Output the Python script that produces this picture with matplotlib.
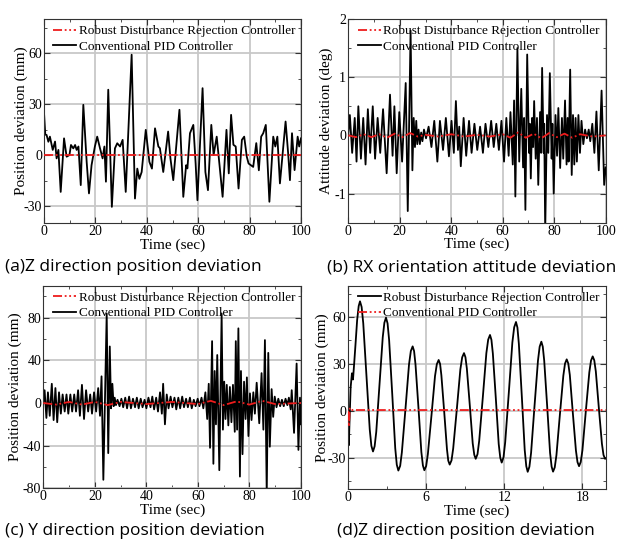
import matplotlib.pyplot as plt
from matplotlib.ticker import MultipleLocator

# Fonte com serifa (tipo Times) para os eixos e legendas
plt.rcParams['font.family'] = ['Liberation Serif', 'DejaVu Serif']
plt.rcParams['font.size'] = 10
plt.rcParams['axes.unicode_minus'] = False

# ---------------- (a) Z direction position deviation ----------------
a_time = [0, 0.5, 1.0, 1.7, 2.3, 3.4, 4.3, 4.9, 5.6, 6.5,
          7.8, 8.8, 9.9, 10.5, 11.4, 12.1, 12.7, 13.4, 14.3, 15.3,
          16.6, 17.5, 18.5, 19.8, 20.7, 21.8, 22.8, 23.5, 24.1, 25.0,
          26.4, 27.6, 28.5, 29.6, 30.6, 31.8, 34.1, 35.4, 36.3, 37.1,
          38.0, 39.6, 41.0, 42.0, 43.2, 44.5, 45.1, 46.4, 48.3, 49.2,
          50.3, 52.7, 54.2, 55.3, 55.8, 56.8, 58.1, 59.0, 59.7, 61.7,
          62.8, 63.8, 65.1, 66.0, 67.2, 68.3, 69.5, 71.0, 71.9, 72.8,
          73.7, 74.6, 75.7, 77.0, 77.9, 78.9, 79.6, 81.4, 82.6, 83.6,
          84.5, 85.3, 86.3, 87.7, 89.2, 90.0, 90.8, 91.8, 94.0, 95.0,
          95.7, 96.5, 97.5, 98.7, 99.3, 100]
a_pid = [25, 12, 11.8, 7.8, 10.8, 3, 7.9, -2, 3, -21.7,
         9.8, -1, 0, 5.9, 3.9, 5.9, 3, 5, -17.7, 29.5,
         -4, -22.6, -6, 5, 10.8, 3.9, -2, 5, -15.7, 38.4,
         -30.5, 3.9, 6.9, 5, 8.9, -21.7, 59, -25.6, -8, -14,
         -10, 14.8, -4, -8, 15.7, 5, 4, -10, 13.8, -2,
         -14.8, 26.6, -24.6, -6, -7.9, 12.8, 17.7, -5, -26.6, 39.3,
         -10, -20.7, 17.7, 0, 10.8, -6, -24.6, 14.8, -10.8, 23.6,
         6, 5, -19.7, 8.9, 10.8, -1, -5, -7, 7, -9,
         10.8, 12.8, 17.7, -27.5, 10.8, 5, 10.8, -16.7, 19.7, 1,
         -14.8, 12.8, -8.9, 10.8, 5, 9.8]
a_rdr_time = [0, 100]
a_rdr = [0, 0]

# ---------------- (b) RX orientation attitude deviation ----------------
b_time = [0, 0.6, 1.5, 2.5, 3.2, 3.9, 4.9, 5.8, 6.7, 7.6,
          8.5, 9.5, 10.4, 11.4, 12.4, 13.5, 14.9, 16.2, 17.2, 17.9,
          18.8, 19.8, 20.9, 22.3, 23.1, 24.2, 24.9, 25.4, 25.9, 26.4,
          26.8, 27.3, 27.8, 28.3, 28.8, 29.4, 30.2, 31.2, 32.3, 33.4,
          34.6, 35.6, 36.8, 37.9, 39.1, 40.1, 41.0, 41.8, 42.6, 43.1,
          43.7, 44.8, 45.8, 46.9, 47.9, 49.0, 50.1, 51.2, 52.3, 53.3,
          54.4, 55.5, 56.5, 57.5, 58.5, 59.5, 60.5, 61.4, 62.3, 63.0,
          63.9, 64.4, 64.9, 65.7, 66.4, 67.2, 67.9, 68.3, 68.8, 69.5,
          70.2, 70.5, 70.9, 71.4, 71.8, 72.2, 72.8, 73.3, 73.8, 74.5,
          74.9, 75.3, 75.9, 76.1, 76.5, 77.2, 77.7, 78.3, 79.0, 79.3,
          79.8, 80.5, 81.1, 81.6, 82.3, 83.0, 83.5, 84.2, 84.8, 85.2,
          85.6, 86.2, 86.8, 87.3, 87.8, 88.3, 88.8, 89.4, 90.0, 90.6,
          91.3, 92.0, 92.7, 93.4, 94.0, 94.8, 95.6, 96.4, 97.3, 98.4,
          99.4, 100]
b_pid = [0, 0.35, -0.3, 0.3, -0.45, 0.5, -0.4, 0.3, -0.5, 0.45,
         -0.3, 0.5, -0.4, 0.3, -0.3, 0.45, -0.65, 0.7, -0.35, 0.5,
         -0.65, 0.4, -0.45, 0.9, -1.3, 1.8, -0.6, 0.3, -0.2, 0.25,
         -0.15, 0.1, -0.15, 0.05, -0.1, 0.1, -0.05, 0.15, -0.2, 0.25,
         -0.45, 0.25, -0.25, 0.3, -0.36, 0.25, -0.3, 0.59, -0.25, 0.15,
         -0.53, 0.3, -0.35, 0.25, -0.3, 0.2, -0.25, 0.15, -0.3, 0.2,
         -0.2, 0.25, -0.2, 0.2, -0.25, 0.25, -0.45, 0.3, -0.35, 0.4,
         -0.5, 0.6, -1.05, 1.5, -0.45, 0.8, -0.55, 0.3, -1.28, 1.39,
         -0.3, 0.2, -0.74, 0.3, -0.2, 0.59, -0.4, 0.3, -0.85, 0.4,
         -0.3, 1.16, -0.3, 0.2, -1.65, 0.35, -0.3, 1.07, -0.4, 0.2,
         -1.0, 0.35, -0.35, 0.47, -0.56, 0.3, -0.4, 0.6, -0.5, 0.3,
         -0.45, 1.13, -0.68, 0.35, -0.5, 0.3, -0.45, 0.35, -0.3, 0.25,
         -0.15, 0.1, -0.05, 0.1, -0.1, 0.2, -0.3, 0.41, -0.6, 0.77,
         -0.85, -0.55]
b_rdr_time = [0, 3, 6, 9, 12, 15, 18, 21, 24, 27,
              30, 35, 40, 45, 50, 55, 60, 63, 66, 69,
              72, 75, 78, 81, 84, 87, 90, 95, 100]
b_rdr = [0, -0.03, 0.02, -0.03, 0.02, -0.04, 0.03, -0.03, 0.04, -0.02,
         0.01, -0.02, 0.02, -0.02, 0.01, -0.02, 0.02, -0.04, 0.05, -0.04,
         0.03, -0.05, 0.04, -0.03, 0.03, -0.04, 0.02, -0.02, 0.0]

# ---------------- (c) Y direction position deviation ----------------
c_time = [0, 0.5, 1.2, 1.8, 2.5, 3.3, 4.0, 4.7, 5.4, 6.1,
          6.8, 7.5, 8.3, 9.0, 9.7, 10.5, 11.2, 12.0, 12.7, 13.5,
          14.2, 15.0, 15.8, 16.6, 17.4, 18.2, 18.9, 19.7, 20.5, 21.3,
          22.0, 22.6, 23.3, 24.6, 25.2, 25.8, 26.3, 26.8, 27.3, 27.7,
          28.2, 28.8, 29.6, 30.3, 31.0, 31.8, 32.5, 33.3, 34.0, 34.8,
          35.6, 36.3, 37.0, 37.8, 38.5, 39.3, 40.0, 40.8, 41.6, 42.3,
          43.0, 43.8, 44.5, 45.3, 46.0, 46.5, 47.2, 47.9, 48.6, 49.4,
          50.1, 50.9, 51.6, 52.4, 53.1, 53.9, 54.6, 55.4, 56.1, 56.9,
          57.6, 58.4, 59.1, 59.9, 60.6, 61.4, 62.1, 62.9, 63.6, 64.2,
          64.7, 65.5, 66.0, 66.5, 67.0, 67.5, 68.3, 69.2, 69.7, 70.2,
          70.7, 71.2, 71.8, 72.4, 73.0, 73.6, 74.3, 74.7, 75.2, 75.7,
          76.3, 76.7, 77.3, 77.9, 78.5, 79.0, 79.6, 80.2, 80.8, 81.5,
          82.1, 82.8, 83.8, 84.7, 85.4, 86.0, 86.7, 87.3, 87.9, 88.6,
          89.2, 89.8, 90.5, 91.2, 91.9, 92.6, 93.3, 94.0, 94.7, 95.3,
          96.0, 96.4, 97.3, 98.3, 99.0, 99.6, 100]
c_pid = [0, 12, -14, 10, -12, 18, -16, 14, -18, 10,
         -10, 8, -8, 8, -10, 8, -8, 8, -8, 12,
         -12, 17, -15, 12, -8, 8, -10, 10, -8, 14,
         -12, 25, -72, 84, -47, 53, -5, 18, -3, 5,
         -2, 3, -3, 4, -4, 5, -5, 6, -5, 4,
         -4, 5, -5, 4, -4, 3, -5, 5, -4, 6,
         -6, 5, -8, 10, -10, 18, -20, 8, -5, 6,
         -4, 5, -6, 5, -5, 6, -4, 4, -4, 5,
         -5, 3, -3, 4, -3, 5, -5, 10, -15, 18,
         -42, 58, -57, 30, -20, 45, -63, 84, -25, 20,
         -15, 17, -21, 15, -18, 17, -27, 58, -25, 70,
         -69, 30, -48, 20, -15, 24, -31, 9, -16, 10,
         -10, 19, -19, 28, -25, 59, -86, 47, -41, 13,
         -13, 6, -4, 4, -3, 3, -3, 4, -2, 5,
         -6, 12, -28, 37, -44, 5, -20]
c_rdr_time = [0, 5, 10, 15, 20, 25, 30, 40, 50, 60, 65, 70, 75, 80, 85, 90, 100]
c_rdr = [0, -1.5, 1, -1.5, 1, -2, 1, -1, 1, -1, 2, -2, 1.5, -1.5, 2, -1, 0]

# ---------------- (d) Z direction position deviation (0-20 s) ----------------
d_time = [0, 0.04, 0.10, 0.18, 0.28, 0.36, 0.45, 0.55, 0.68, 0.80,
          0.9, 1.025, 1.15, 1.4, 1.65, 1.775,
          1.9, 2.025, 2.15, 2.4, 2.65, 2.775,
          2.9, 3.02, 3.14, 3.38, 3.61, 3.73,
          3.85, 3.99, 4.12, 4.4, 4.67, 4.81,
          4.95, 5.06, 5.17, 5.4, 5.62, 5.74,
          5.85, 5.99, 6.12, 6.4, 6.67, 6.81,
          6.95, 7.06, 7.16, 7.38, 7.59, 7.69,
          7.8, 7.94, 8.07, 8.35, 8.62, 8.76,
          8.9, 9.01, 9.12, 9.35, 9.57, 9.69,
          9.8, 9.94, 10.07, 10.35, 10.62, 10.76,
          10.9, 11.01, 11.12, 11.35, 11.57, 11.69,
          11.8, 11.94, 12.07, 12.35, 12.62, 12.76,
          12.9, 13.01, 13.12, 13.35, 13.57, 13.69,
          13.8, 13.93, 14.06, 14.32, 14.59, 14.72,
          14.85, 14.96, 15.07, 15.3, 15.52, 15.64,
          15.75, 15.88, 16.01, 16.27, 16.54, 16.67,
          16.8, 16.92, 17.04, 17.27, 17.51, 17.63,
          17.75, 17.88, 18.01, 18.27, 18.54, 18.67,
          18.8, 18.92, 19.04, 19.27, 19.51, 19.63,
          19.75, 19.8]
d_rdr = [0, -22, -5, 15, 24, 20, 30, 42, 58, 67,
         70, 66.4, 56, 22, -12, -22.4,
         -26, -22.7, -13.5, 16.8, 47.1, 56.3,
         59.6, 55.9, 45.3, 10.7, -23.9, -34.5,
         -38.2, -35.2, -26.6, 1.5, 29.6, 38.2,
         41.2, 38.2, 29.6, 1.6, -26.4, -35,
         -38, -35.3, -27.7, -2.75, 22.2, 29.8,
         32.5, 30, 22.7, -0.95, -24.6, -31.9,
         -34.4, -31.7, -24, 1.25, 26.5, 34.2,
         36.9, 34.3, 27, 3.1, -20.8, -28.1,
         -30.7, -27.7, -19.1, 8.9, 36.9, 45.5,
         48.5, 45.4, 36.6, 7.7, -21.2, -30,
         -33.1, -29.7, -20, 11.9, 43.7, 53.4,
         56.8, 53.2, 42.8, 8.9, -25, -35.4,
         -39, -35.8, -26.9, 2.6, 32.1, 41,
         44.2, 41, 32.1, 2.65, -26.8, -35.7,
         -38.9, -36.2, -28.4, -3, 22.4, 30.2,
         32.9, 30.3, 22.9, -1.25, -25.4, -32.8,
         -35.4, -32.7, -25.2, -0.3, 24.6, 32.1,
         34.8, 32.3, 25.2, 2.05, -21.1, -28.2,
         -30.7, -30.5]
d_pid_time = [0, 0.05, 0.12, 0.3, 19.8]
d_pid = [0, -10, 2, 0.5, 0.5]

rdr_label = 'Robust Disturbance Rejection Controller'
pid_label = 'Conventional PID Controller'
red_style = dict(color='#ee1c1c', lw=1.3, dashes=(5, 1.5, 1, 1.5, 1, 1.5))
black_style = dict(color='black', lw=1.3)

fig = plt.figure(figsize=(6.18, 5.41), dpi=100)


def px_axes(left, top, right, bottom):
    # posicao do eixo a partir dos pixels da figura
    return fig.add_axes([left / 618, 1 - bottom / 541,
                         (right - left) / 618, (bottom - top) / 541])


def style(ax, xlim, ylim, xmaj, xmin, ymaj, ymin, ylabel, ylabx):
    ax.set_xlim(xlim)
    ax.set_ylim(ylim)
    ax.xaxis.set_major_locator(MultipleLocator(xmaj))
    ax.xaxis.set_minor_locator(MultipleLocator(xmin))
    ax.yaxis.set_major_locator(MultipleLocator(ymaj))
    ax.yaxis.set_minor_locator(MultipleLocator(ymin))
    ax.tick_params(which='both', direction='in', top=True, right=True,
                   labelsize=10, pad=1.5, color='#333333')
    ax.tick_params(which='major', length=4)
    ax.tick_params(which='minor', length=2.5)
    ax.grid(True, which='major', color='#c8c8c8', lw=1.3)
    ax.set_axisbelow(True)
    for s in ax.spines.values():
        s.set_color('#333333')
    ax.set_xlabel('Time (sec)', fontsize=11, labelpad=0)
    ax.set_ylabel(ylabel, fontsize=11)
    ax.yaxis.set_label_coords(ylabx, 0.5)
    ax.legend(loc='upper right', frameon=False, fontsize=9.5,
              handlelength=1.7, handletextpad=0.2, labelspacing=0.25,
              borderaxespad=0.35, borderpad=0.1)


# (a)
ax = px_axes(44, 19, 301, 223)
ax.plot(a_rdr_time, a_rdr, label=rdr_label, zorder=3, **red_style)
ax.plot(a_time, a_pid, label=pid_label, zorder=2, **black_style)
style(ax, (0, 100), (-40, 80), 20, 10, 30, 15, 'Position deviation (mm)', -0.064)

# (b)
ax = px_axes(348.3, 19, 605.7, 222.7)
ax.plot(b_rdr_time, b_rdr, label=rdr_label, zorder=3, **red_style)
ax.plot(b_time, b_pid, label=pid_label, zorder=2, **black_style)
style(ax, (0, 100), (-1.5, 2), 20, 10, 1, 0.5, 'Attitude deviation (deg)', -0.058)

# (c)
ax = px_axes(43.3, 285.7, 301, 488.3)
ax.plot(c_rdr_time, c_rdr, label=rdr_label, zorder=3, **red_style)
ax.plot(c_time, c_pid, label=pid_label, zorder=2, **black_style)
style(ax, (0, 100), (-80, 110), 20, 10, 40, 20, 'Position deviation (mm)', -0.084)

# (d)
ax = px_axes(348.3, 285.7, 605.7, 489)
ax.plot(d_time, d_rdr, label=rdr_label, zorder=2, **black_style)
ax.plot(d_pid_time, d_pid, label=pid_label, zorder=3, **red_style)
style(ax, (0, 19.8), (-50, 80), 6, 3, 30, 15, 'Position deviation (mm)', -0.074)

# Legendas das figuras
cap = dict(fontfamily='Open Sans', fontsize=12.5, va='center', ha='left')
fig.text(5 / 618, 1 - 267 / 541, '(a)Z direction position deviation', **cap)
fig.text(327 / 618, 1 - 267 / 541, '(b) RX orientation attitude deviation', **cap)
fig.text(5 / 618, 1 - 531 / 541, '(c) Y direction position deviation', **cap)
fig.text(337 / 618, 1 - 531 / 541, '(d)Z direction position deviation', **cap)

fig.savefig('out.png', dpi=100)
